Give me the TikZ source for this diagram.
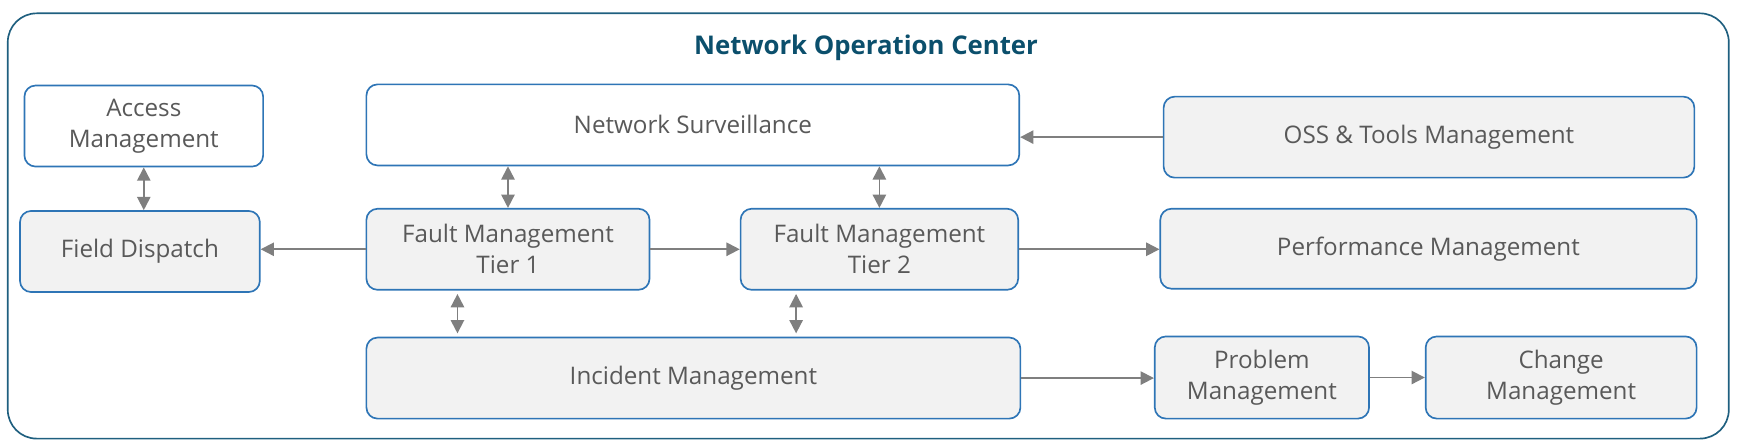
\documentclass[tikz,border=0pt]{standalone}
\usepackage{fontspec}
\setmainfont{Open Sans}
\usetikzlibrary{arrows.meta}
\definecolor{boxblue}{HTML}{2E75B6}
\definecolor{framecol}{HTML}{1F5F7F}
\definecolor{titlecol}{HTML}{0B4F6C}
\definecolor{fillgray}{HTML}{F2F2F2}
\definecolor{txtgray}{HTML}{595959}
\definecolor{arrgray}{HTML}{7F7F7F}
\begin{document}
\begin{tikzpicture}[x=0.5pt,y=-0.5pt,
  box/.style={draw=boxblue,line width=0.75pt,rounded corners=5pt,text=txtgray,
    align=center,inner sep=0pt,font=\fontsize{10.9}{14}\selectfont},
  wbox/.style={box,fill=white},
  gbox/.style={box,fill=fillgray},
  conn/.style={draw=arrgray,line width=0.8pt,-{Triangle[length=6pt,width=6pt]}},
  bconn/.style={draw=arrgray,line width=0.8pt,{Triangle[length=6pt,width=6pt]}-{Triangle[length=6pt,width=6pt]}}]
\useasboundingbox (0,0) rectangle (1568,403);
\node[draw=framecol,line width=0.75pt,rounded corners=13pt,minimum width=1550*0.5pt,minimum height=383*0.5pt,inner sep=0pt] (frame) at (782,203.5) {};
\node[text=titlecol,font=\bfseries\fontsize{11.6}{13}\selectfont] (title) at (780,43) {Network Operation Center};
\node[wbox,minimum width=107.5pt,minimum height=36.5pt] (AM) at (129.5,113.5) {Access\\Management};
\node[wbox,minimum width=294pt,minimum height=36.5pt] (NS) at (624,112.5) {Network Surveillance};
\node[gbox,minimum width=239pt,minimum height=36.5pt] (OSS) at (1287,123.5) {OSS \& Tools Management};
\node[gbox,minimum width=108pt,minimum height=36.5pt] (FD) at (126,226.5) {Field Dispatch};
\node[gbox,minimum width=127.5pt,minimum height=36.5pt] (FM1) at (457.5,224.5) {Fault Management\\Tier 1};
\node[gbox,minimum width=125pt,minimum height=36.5pt] (FM2) at (792,224.5) {Fault Management\\Tier 2};
\node[gbox,minimum width=241.5pt,minimum height=36pt] (PM) at (1286.5,224) {Performance Management};
\node[gbox,minimum width=294.5pt,minimum height=36.5pt] (IM) at (624.5,340.5) {Incident Management};
\node[gbox,minimum width=96.5pt,minimum height=37pt] (PrM) at (1136.5,340) {Problem\\Management};
\node[gbox,minimum width=122pt,minimum height=37pt] (CM) at (1406,340) {Change\\Management};
\draw[conn] (OSS.west) -- (OSS.west -| NS.east);
\draw[bconn] (AM.south) -- (AM.south |- FD.north);
\draw[bconn] (FM1.north) -- (FM1.north |- NS.south);
\draw[bconn] (FM2.north) -- (FM2.north |- NS.south);
\draw[conn] (FM1.west) -- (FM1.west -| FD.east);
\draw[conn] (FM1.east) -- (FM2.west);
\draw[conn] (FM2.east) -- (FM2.east -| PM.west);
\draw[bconn,shorten <=1.5pt,shorten >=1.5pt] ([xshift=-22.75pt]FM1.south) -- ([xshift=-22.75pt]FM1.south |- IM.north);
\draw[bconn,shorten <=1.5pt,shorten >=1.5pt] ([xshift=-37.5pt]FM2.south) -- ([xshift=-37.5pt]FM2.south |- IM.north);
\draw[conn] (IM.east) -- (IM.east -| PrM.west);
\draw[conn] (PrM.east) -- (CM.west);
\end{tikzpicture}
\end{document}
